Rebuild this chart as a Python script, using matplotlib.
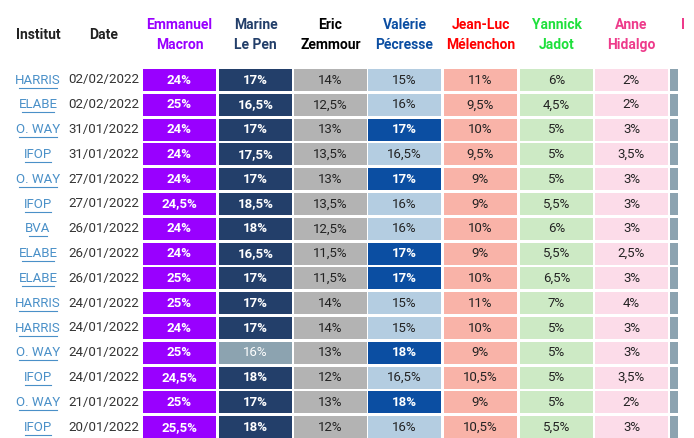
import matplotlib
matplotlib.use("Agg")
import matplotlib.pyplot as plt
from matplotlib.patches import Rectangle

instituts = ["HARRIS","ELABE","O. WAY","IFOP","O. WAY","IFOP","BVA","ELABE","ELABE","HARRIS","HARRIS","O. WAY","IFOP","O. WAY","IFOP"]
dates = ["02/02/2022","02/02/2022","31/01/2022","31/01/2022","27/01/2022","27/01/2022","26/01/2022","26/01/2022","26/01/2022","24/01/2022","24/01/2022","24/01/2022","24/01/2022","21/01/2022","20/01/2022"]
candidates = ["Emmanuel\nMacron","Marine\nLe Pen","Eric\nZemmour","Valérie\nPécresse","Jean-Luc\nMélenchon","Yannick\nJadot","Anne\nHidalgo"]
macron = ["24%","25%","24%","24%","24%","24,5%","24%","24%","25%","25%","24%","25%","24,5%","25%","25,5%"]
lepen = ["17%","16,5%","17%","17,5%","17%","18,5%","18%","16,5%","17%","17%","17%","16%","18%","17%","18%"]
zemmour = ["14%","12,5%","13%","13,5%","13%","13,5%","12,5%","11,5%","11,5%","14%","14%","13%","12%","13%","12%"]
pecresse = ["15%","16%","17%","16,5%","17%","16%","16%","17%","17%","15%","15%","18%","16,5%","18%","16%"]
melenchon = ["11%","9,5%","10%","9,5%","9%","9%","10%","9%","10%","11%","10%","9%","10,5%","9%","10,5%"]
jadot = ["6%","4,5%","5%","5%","5%","5,5%","6%","5,5%","6,5%","7%","5%","5%","5%","5%","5,5%"]
hidalgo = ["2%","2%","3%","3,5%","3%","3%","3%","2,5%","3%","4%","3%","3%","3,5%","2%","3%"]
series = [macron, lepen, zemmour, pecresse, melenchon, jadot, hidalgo]

head_colors = ["#9900ff","#233f6a","#000000","#0b4ea2","#ff0000","#1ee03c","#ee3b8b"]
col_x = [143,219,294,368,444,520,595]
cw = 73
font = "Roboto"

fig = plt.figure(figsize=(6.94,4.38), dpi=100)
ax = fig.add_axes([0,0,1,1])
ax.set_xlim(0,694); ax.set_ylim(438,0); ax.axis("off")

ax.text(38,35,"Institut",ha="center",va="center",fontsize=10,fontweight="bold",color="#222222",family=font)
ax.text(104,35,"Date",ha="center",va="center",fontsize=10,fontweight="bold",color="#222222",family=font)
for j,(name,c) in enumerate(zip(candidates,head_colors)):
    ax.text(col_x[j]+cw/2,35,name,ha="center",va="center",fontsize=10,fontweight="bold",color=c,family=font,linespacing=1.55)
ax.text(681,25,"I",ha="left",va="center",fontsize=10,fontweight="bold",color="#ee3b8b",family=font)

def style(j, v):
    num = float(v.rstrip("%").replace(",","."))
    if j == 0: return "#9900ff","white","bold"
    if j == 1:
        if num < 16.5: return "#8ca3b0","white","normal"
        return "#233f6a","white","bold"
    if j == 2: return "#b3b3b3","#222222","normal"
    if j == 3:
        if num >= 17: return "#0b4ea2","white","bold"
        return "#b4cde1","#222222","normal"
    if j == 4: return "#f9b3a8","#222222","normal"
    if j == 5: return "#cdeac5","#222222","normal"
    return "#fcdce9","#222222","normal"

pitch = 24.8
for i in range(len(instituts)):
    yc = 80 + i*pitch
    ax.text(38,yc,instituts[i],ha="center",va="center",fontsize=9.5,color="#4a90c8",family=font)
    w = len(instituts[i])*6.3
    ax.plot([38-w/2,38+w/2],[yc+7.5,yc+7.5],color="#4a90c8",lw=0.8)
    ax.text(104,yc,dates[i],ha="center",va="center",fontsize=9.5,color="#333333",family=font)
    for j,s in enumerate(series):
        bg,fg,fw = style(j,s[i])
        ax.add_patch(Rectangle((col_x[j],yc-11),cw,22,color=bg,lw=0))
        ax.text(col_x[j]+cw/2,yc,s[i],ha="center",va="center",fontsize=9.5,color=fg,fontweight=fw,family=font)
    ax.add_patch(Rectangle((670,yc-11),8,22,color="#8ca3b0",lw=0))

fig.savefig("out.png",dpi=100)
